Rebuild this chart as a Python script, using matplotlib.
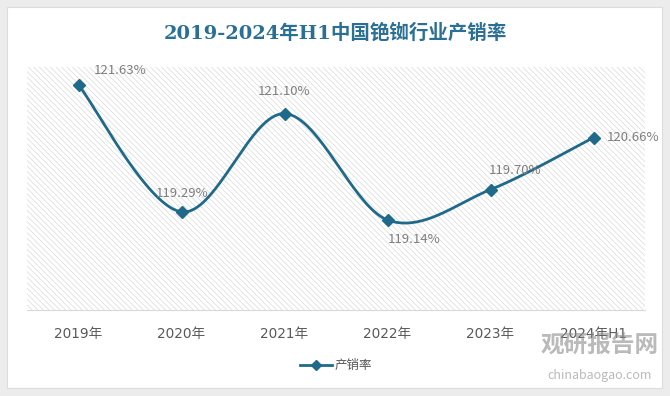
import matplotlib.pyplot as plt
import numpy as np
from matplotlib.patches import Rectangle

plt.rcParams['font.family'] = ['Noto Sans CJK SC', 'DejaVu Sans']
plt.rcParams['hatch.linewidth'] = 0.5

years = ["2019年", "2020年", "2021年", "2022年", "2023年", "2024年H1"]
rates = [121.63, 119.29, 121.10, 119.14, 119.70, 120.66]
labels = ["121.63%", "119.29%", "121.10%", "119.14%", "119.70%", "120.66%"]

line_color = "#1f6a8a"


def smooth(x, y, n=40):
    # excel-like smoothed line: bezier segments through the points
    x = np.asarray(x, float)
    y = np.asarray(y, float)
    px = np.concatenate([[x[0]], x, [x[-1]]])
    py = np.concatenate([[y[0]], y, [y[-1]]])
    xs, ys = [], []
    t = np.linspace(0, 1, n)
    for i in range(1, len(px) - 2):
        p0 = np.array([px[i], py[i]])
        p3 = np.array([px[i + 1], py[i + 1]])
        p1 = p0 + (np.array([px[i + 1], py[i + 1]]) - np.array([px[i - 1], py[i - 1]])) / 6
        p2 = p3 - (np.array([px[i + 2], py[i + 2]]) - np.array([px[i], py[i]])) / 6
        b = ((1 - t) ** 3)[:, None] * p0 + (3 * (1 - t) ** 2 * t)[:, None] * p1 \
            + (3 * (1 - t) * t ** 2)[:, None] * p2 + (t ** 3)[:, None] * p3
        xs.extend(b[:, 0])
        ys.extend(b[:, 1])
    return np.array(xs), np.array(ys)


fig = plt.figure(figsize=(6.7, 3.96), dpi=100)
fig.patch.set_facecolor("#ececec")

# white card behind everything
bg = fig.add_axes([0, 0, 1, 1], zorder=-10)
bg.set_xlim(0, 670)
bg.set_ylim(396, 0)
bg.axis("off")
bg.add_patch(Rectangle((7, 7), 655, 381, facecolor="white", edgecolor="#dcdcdc", linewidth=0.8))

ax = fig.add_axes([27 / 670, 1 - 310 / 396, 618 / 670, 243 / 396])
ax.patch.set_facecolor("white")
ax.patch.set_hatch("\\" * 6)
ax.patch.set_edgecolor("#d9d9d9")

x = np.arange(len(years))
sx, sy = smooth(x, rates)
ax.plot(sx, sy, color=line_color, linewidth=2, zorder=3)
ax.plot(x, rates, linestyle="none", marker="D", markersize=6, color=line_color, zorder=4)

offsets = [(40, 14), (1, 18), (0, 21), (26, -19), (24, 18), (38, 0)]
for xi, yi, lab, (dx, dy) in zip(x, rates, labels, offsets):
    ax.annotate(lab, (xi, yi), xytext=(dx * 0.75, dy * 0.75), textcoords="offset points",
                ha="center", va="center", fontsize=9.5, color="#7f7f7f", zorder=5)

ax.set_xlim(-0.5, 5.5)
ax.set_ylim(117.48, 121.96)
ax.set_yticks([])
ax.set_xticks(x)
ax.set_xticklabels(years, fontsize=9.8, color="#595959", family=["DejaVu Sans", "Noto Sans CJK SC"])
ax.tick_params(axis="x", length=0, pad=12)
for s in ["top", "left", "right"]:
    ax.spines[s].set_visible(False)
ax.spines["bottom"].set_color("#d9d9d9")

fig.text(0.5, 1 - 33 / 396, "2019-2024年H1中国铯铷行业产销率", ha="center", va="center",
         fontsize=14, fontweight="bold", color="#2a6f94",
         family=["DejaVu Serif", "Noto Sans CJK SC"])

ax.plot([], [], color=line_color, linewidth=2, marker="D", markersize=5, label="产销率")
ax.legend(loc="center", bbox_to_anchor=(0.5, -0.23), frameon=False, fontsize=9,
          handlelength=2.5, handletextpad=0.2, labelcolor="#595959")

fig.text(600 / 670, 1 - 345 / 396, "观研报告网", ha="center", va="center", fontsize=17,
         fontweight="bold", color="#8c8c8c", alpha=0.6)
fig.text(600 / 670, 1 - 375 / 396, "chinabaogao.com", ha="center", va="center", fontsize=9,
         color="#8c8c8c", alpha=0.6)

fig.savefig("out.png", dpi=100, facecolor=fig.get_facecolor())
